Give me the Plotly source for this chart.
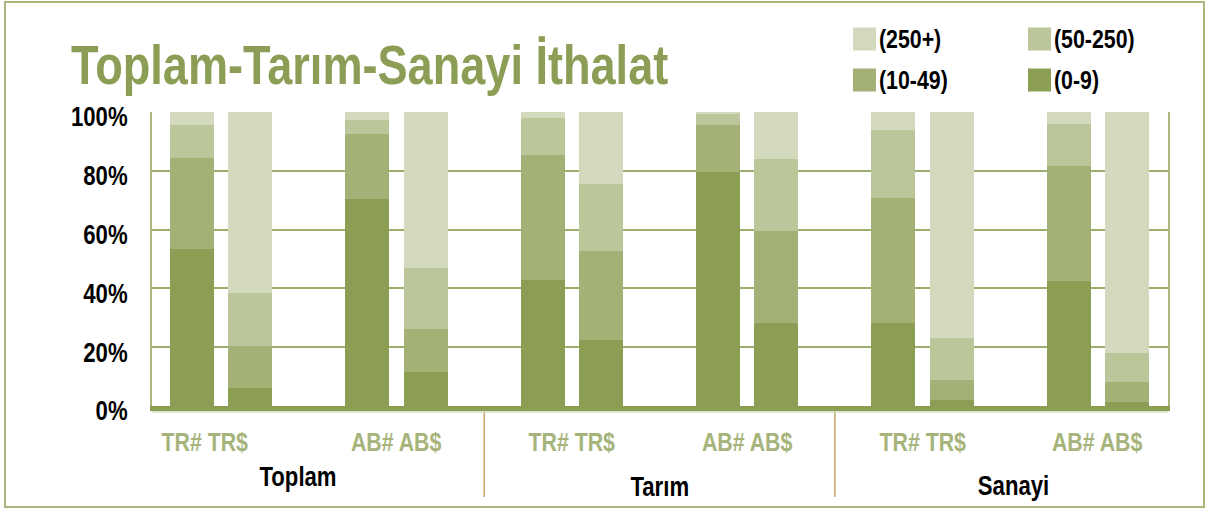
import json
import plotly.graph_objects as go

# ---- data ----------------------------------------------------------------
groups = ["Toplam", "Tarım", "Sanayi"]
pair_labels = ["TR# TR$", "AB# AB$"]
bar_names = ["TR#", "TR$", "AB#", "AB$"]
size_classes = ["(0-9)", "(10-49)", "(50-250)", "(250+)"]

# shares (%) per bar: Toplam TR#, TR$, AB#, AB$, Tarım ..., Sanayi ...
share_0_9 = [53.3, 6.1, 70.3, 11.6, 42.8, 22.4, 79.5, 28.2, 28.2, 2.0, 42.5, 1.4]
share_10_49 = [31.0, 14.3, 22.1, 14.6, 42.5, 30.3, 16.0, 31.3, 42.5, 6.8, 39.0, 6.8]
share_50_250 = [11.2, 18.0, 4.8, 20.7, 12.5, 22.7, 3.9, 24.4, 23.1, 14.3, 14.3, 9.8]
share_250p = [4.5, 61.6, 2.8, 53.1, 2.2, 24.6, 0.6, 16.1, 6.2, 76.9, 4.2, 82.0]
y_ticks = [0, 20, 40, 60, 80, 100]
y_tick_text = [f"{v}%" for v in y_ticks]

series = [share_0_9, share_10_49, share_50_250, share_250p]
colors = ["#8c9e54", "#a3b176", "#bbc69a", "#d3d9bc"]

FONT = "Liberation Sans, Arial, sans-serif"
OLIVE = "#8c9e55"
LABEL_GREEN = "#a6b47b"
NARROW = 0.82  # horizontal squeeze applied to all text for a condensed face

# ---- geometry ---------------------------------------------------------------
W, H = 1206, 509
ML, MR, MT, MB = 152, 38, 112, 103
PW, PH = W - ML - MR, H - MT - MB


def px(x):
    return (x - ML) / PW


def py(y):
    return (H - MB - y) / PH


# slot layout: each group holds two pairs of bars with an empty slot after each pair
def slot(i):
    g, k = divmod(i, 4)
    return g * 6 + (k // 2) * 3 + k % 2


xs = [slot(i) for i in range(len(share_0_9))]
hover_names = [f"{groups[i // 4]} {bar_names[i % 4]}" for i in range(len(xs))]

fig = go.Figure()
for name, vals, col in zip(size_classes, series, colors):
    fig.add_trace(go.Bar(
        x=xs, y=vals, name=name, width=0.753,
        marker=dict(color=col, line=dict(width=0)),
        customdata=hover_names,
        hovertemplate="%{customdata}<br>" + name + ": %{y}%<extra></extra>",
        showlegend=False,
    ))

annotations = []
shapes = []

# title
annotations.append(dict(
    text="Toplam-Tarım-Sanayi İthalat", xref="paper", yref="paper",
    x=px(69), y=py(65), xanchor="left", yanchor="middle", showarrow=False,
    font=dict(family=FONT, size=55, color=OLIVE, weight="bold"),
))

# legend block (2 x 2)
legend_order = [[3, 2], [1, 0]]
col_x = [853, 1028]
row_y = [39, 80]
for r, row in enumerate(legend_order):
    for c, idx in enumerate(row):
        x0 = col_x[c]
        yc = row_y[r]
        shapes.append(dict(
            type="rect", xref="paper", yref="paper",
            x0=px(x0), x1=px(x0 + 23), y0=py(yc + 11.5), y1=py(yc - 11.5),
            fillcolor=colors[idx], line=dict(width=0),
        ))
        annotations.append(dict(
            text=size_classes[idx], xref="paper", yref="paper",
            x=px(x0 + 24), y=py(yc), xanchor="left", yanchor="middle",
            showarrow=False,
            font=dict(family=FONT, size=26, color="black", weight="bold"),
        ))

# pair labels under the bars
pair_shift = [-16, 0, 0, 0, 0, 0]
for g in range(len(groups)):
    for p, lab in enumerate(pair_labels):
        annotations.append(dict(
            text=lab, xref="x", yref="paper",
            x=g * 6 + p * 3 + 0.5, y=py(442), xanchor="center", yanchor="middle",
            xshift=pair_shift[g * 2 + p], showarrow=False,
            font=dict(family=FONT, size=26, color=LABEL_GREEN, weight="bold"),
        ))

# group labels
group_y = [477, 487, 486]
group_shift = [-11, 0, 3]
for g, name in enumerate(groups):
    annotations.append(dict(
        text=name, xref="x", yref="paper",
        x=g * 6 + 2, y=py(group_y[g]), xanchor="center", yanchor="middle",
        xshift=group_shift[g], showarrow=False,
        font=dict(family=FONT, size=27, color="black", weight="bold"),
    ))

# separators between groups
for g in range(1, len(groups)):
    shapes.append(dict(
        type="line", xref="x", yref="paper",
        x0=g * 6 - 1, x1=g * 6 - 1, y0=py(411), y1=py(497),
        line=dict(color="#c9a66b", width=1.5),
    ))

# thin light rule under the base line
shapes.append(dict(
    type="line", xref="paper", yref="paper",
    x0=0, x1=1, y0=py(412), y1=py(412),
    line=dict(color="#d6dcc3", width=1.5),
))

# outer frame
shapes.append(dict(
    type="rect", xref="paper", yref="paper",
    x0=px(5), x1=px(1204), y0=py(507), y1=py(2),
    line=dict(color="#a9b77e", width=2), fillcolor="rgba(0,0,0,0)",
))

fig.update_layout(
    width=W, height=H, autosize=False,
    margin=dict(l=ML, r=MR, t=MT, b=MB, pad=0),
    paper_bgcolor="white", plot_bgcolor="white",
    barmode="stack", bargap=0,
    font=dict(family=FONT),
    annotations=annotations, shapes=shapes,
    showlegend=False,
    xaxis=dict(
        range=[-0.685, 16.7], showticklabels=False, showgrid=False,
        zeroline=False, showline=True, linecolor="#8c9e54", linewidth=5,
        ticks="", fixedrange=True,
    ),
    yaxis=dict(
        range=[0, 100], tickvals=y_ticks, ticktext=y_tick_text,
        showgrid=True, gridcolor="#9cae6c", gridwidth=2,
        zeroline=False, showline=True, mirror=True,
        linecolor="#a9b77e", linewidth=2, ticks="",
        ticklabelstandoff=17, ticklabelshift=5,
        tickfont=dict(family=FONT, size=27, color="black", weight="bold"),
        fixedrange=True,
    ),
)

# Squeeze every text run horizontally to get a condensed look.
# Left-anchored annotations keep their left edge; others keep their anchor.
anchors = json.dumps([a.get("xanchor", "auto") for a in annotations])
squeeze_js = """
var gd = document.getElementById('{plot_id}');
var anchors = %s;
var k = %s;
gd.querySelectorAll('svg text').forEach(function (t) {
  var w = t.getComputedTextLength();
  if (!(w > 0)) return;
  t.setAttribute('textLength', (w * k).toFixed(2));
  t.setAttribute('lengthAdjust', 'spacingAndGlyphs');
  var g = t.closest('g.annotation');
  if (g && anchors[+g.getAttribute('data-index')] === 'left') {
    var x = parseFloat(t.getAttribute('x') || '0');
    t.setAttribute('x', (x - w * (1 - k) / 2).toFixed(2));
  }
});
""" % (anchors, NARROW)

fig.write_html("out.html", post_script=squeeze_js)
